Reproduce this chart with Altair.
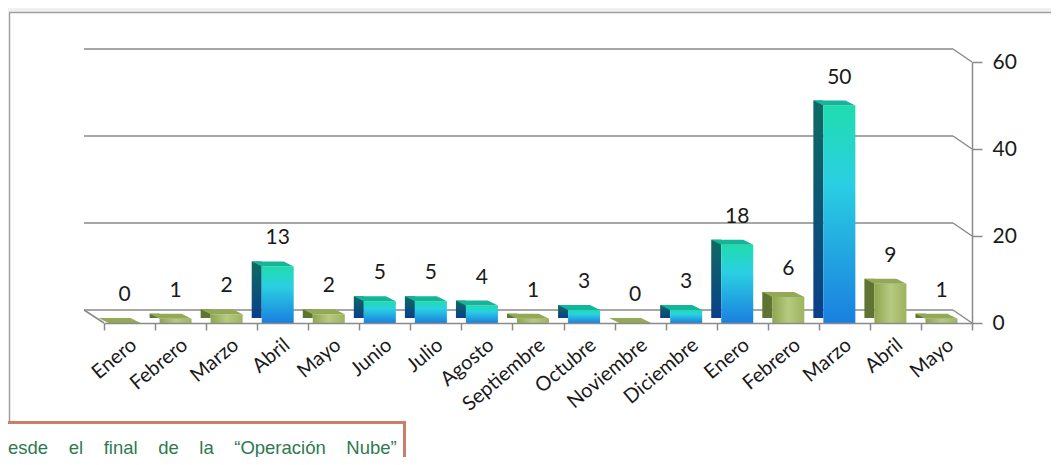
import json
import altair as alt
import pandas as pd

# ---- data ----
months = ["Enero", "Febrero", "Marzo", "Abril", "Mayo", "Junio", "Julio", "Agosto",
          "Septiembre", "Octubre", "Noviembre", "Diciembre", "Enero", "Febrero",
          "Marzo", "Abril", "Mayo"]
values = [0, 1, 2, 13, 2, 5, 5, 4, 1, 3, 0, 3, 18, 6, 50, 9, 1]
groups = ["verde", "verde", "verde", "azul", "verde", "azul", "azul", "azul", "verde",
          "azul", "verde", "azul", "azul", "verde", "azul", "verde", "verde"]
y_ticks = [0, 20, 40, 60]
note_line = "esde\u00a0\u00a0\u00a0\u00a0el\u00a0\u00a0\u00a0\u00a0final\u00a0\u00a0\u00a0\u00a0de\u00a0\u00a0\u00a0\u00a0la\u00a0\u00a0\u00a0\u00a0\u201cOperaci\u00f3n\u00a0\u00a0\u00a0\u00a0Nube\u201d"

df = pd.DataFrame({"idx": list(range(len(months))), "mes": months,
                   "valor": values, "grupo": groups})
grid_df = pd.DataFrame({"t": y_ticks})
note_df = pd.DataFrame({"texto": [note_line]})

W, H = 868, 261
GC = "#8a8a8a"
yscale = alt.Scale(domain=[0, 60], nice=False, zero=True)
xscale = alt.Scale(type="band", paddingInner=0, paddingOuter=0)
label_expr = json.dumps(months) + "[datum.value]"

x_axis = alt.Axis(title=None, labelExpr=label_expr, labelAngle=-40, labelAlign="right",
                  labelBaseline="middle", labelPadding=12, labelOffset=4, tickBand="extent",
                  tickSize=7, tickColor=GC, tickWidth=1.5, domainColor=GC, domainWidth=1.5,
                  labelFont="Lato", labelFontSize=20, labelColor="#1a1a1a", zindex=1)
y_axis = alt.Axis(orient="right", values=y_ticks, title=None, grid=False, tickSize=10,
                  tickColor=GC, tickWidth=1.5, domainColor=GC, domainWidth=1.5,
                  labelFont="Lato", labelFontSize=21, labelPadding=10, labelColor="#1a1a1a",
                  zindex=1)

def X():
    return alt.X("idx:O", scale=xscale, axis=x_axis)

def Y(field):
    return alt.Y(field, scale=yscale, axis=y_axis)

def grad(stops, horizontal=False):
    return alt.Gradient(gradient="linear",
                        stops=[alt.GradientStop(color=c, offset=o) for o, c in stops],
                        x1=0, y1=0, x2=1 if horizontal else 0, y2=0 if horizontal else 1)

styles = {
    "azul": dict(front=grad([(0, "#1fdcae"), (0.35, "#2ad0e2"), (1, "#1a7fe0")]),
                 side=grad([(0, "#0e6b62"), (1, "#0b3f88")]),
                 top="#15b59c"),
    "verde": dict(front=grad([(0, "#8ea64e"), (0.5, "#b7ca80"), (1, "#9db35e")], horizontal=True),
                  side="#5f7332",
                  top="#93a957"),
}

# ---- frame / decorations ----
top_strip = alt.Chart(note_df).mark_rect(fill="#f0f0f0").encode(
    x=alt.value(-96), x2=alt.value(W + 79), y=alt.value(-54), y2=alt.value(-50))
top_border = alt.Chart(note_df).mark_rule(color="#a0a0a0", strokeWidth=1.5).encode(
    x=alt.value(-95), x2=alt.value(W + 79), y=alt.value(-49.5))
left_border = alt.Chart(note_df).mark_rule(color="#a0a0a0", strokeWidth=1.5).encode(
    x=alt.value(-94.5), y=alt.value(-49.5), y2=alt.value(360))

grid_h = alt.Chart(grid_df).mark_rule(color=GC, strokeWidth=1.5, yOffset=-13).encode(
    x=alt.value(-20), x2=alt.value(W - 19), y=Y("t:Q"))
grid_d = alt.Chart(grid_df).mark_rule(color=GC, strokeWidth=1.5, yOffset=-13).encode(
    x=alt.value(W - 19), x2=alt.value(W), y=Y("t:Q"), y2=alt.Y2("t:Q"))
floor_left = alt.Chart(note_df).mark_rule(color=GC, strokeWidth=1.5).encode(
    x=alt.value(-20), x2=alt.value(0), y=alt.value(H - 13), y2=alt.value(H))

layers = [top_strip, top_border, left_border, grid_h, grid_d, floor_left]

for g in ["verde", "azul"]:
    st = styles[g]
    base = alt.Chart(df).transform_filter(alt.datum.grupo == g)
    side = base.mark_bar(size=10, xOffset=-26, yOffset=-5, y2Offset=-2, fill=st["side"]).encode(
        x=X(), y=Y("valor:Q"))
    front = base.mark_bar(size=32, xOffset=-5, fill=st["front"]).encode(
        x=X(), y=Y("valor:Q"))
    top = base.mark_point(shape="M-31,-5L1,-5L11,0L-21,0Z", size=4, filled=True,
                          fill=st["top"], strokeWidth=0, opacity=1).encode(
        x=X(), y=Y("valor:Q"))
    layers += [side, front, top]

labels = alt.Chart(df).mark_text(dx=-5, dy=-28, font="Lato", fontSize=21,
                                 color="#1a1a1a", baseline="middle").encode(
    x=X(), y=Y("valor:Q"), text=alt.Text("valor:Q"))
layers.append(labels)

# ---- note box at the bottom left ----
note_box = alt.Chart(note_df).mark_rect(fill="white", stroke="#c8806a", strokeWidth=3).encode(
    x=alt.value(-120), x2=alt.value(300.5), y=alt.value(360.5), y2=alt.value(420))
note_text = alt.Chart(note_df).mark_text(align="left", baseline="alphabetic",
                                         font="Liberation Sans", fontSize=18.5,
                                         color="#2e7a4e").encode(
    x=alt.value(-96), y=alt.value(392), text="texto:N")
layers += [note_box, note_text]

chart = alt.layer(*layers).properties(
    width=W, height=H,
    autosize=alt.AutoSizeParams(type="none"),
    padding={"left": 96, "top": 54, "right": 79, "bottom": 134},
    background="white",
).configure_view(stroke=None)

chart.save("out.html", embed_options={"renderer": "svg", "actions": False})
